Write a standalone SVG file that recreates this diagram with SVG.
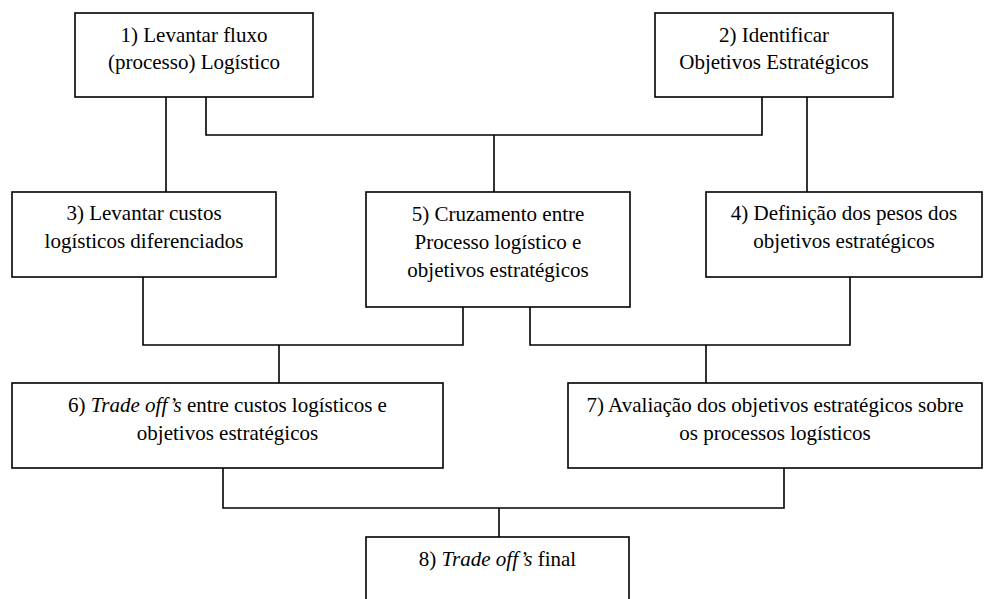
<svg xmlns="http://www.w3.org/2000/svg" width="987" height="599" viewBox="0 0 987 599">
  <style>
    .box { fill: #ffffff; stroke: #000000; stroke-width: 1.6; }
    .wire { fill: none; stroke: #000000; stroke-width: 1.6; }
    .lbl { font-family: 'Times New Roman', Times, Tinos, 'Liberation Serif', 'Noto Serif', 'DejaVu Serif', 'Nimbus Roman', FreeSerif, serif; font-size: 21px; fill: #000000; text-anchor: middle; }
    .it { font-style: italic; }
  </style>
  <rect width="987" height="599" fill="#ffffff"/>

  <g id="connectors">
    <!-- 1 -> 3 -->
    <path class="wire" d="M166 97 V192"/>
    <!-- 1 and 2 -> 5 -->
    <path class="wire" d="M206 97 V135 H762 V97"/>
    <path class="wire" d="M494 135 V192"/>
    <!-- 2 -> 4 -->
    <path class="wire" d="M807 97 V192"/>
    <!-- 3 and 5 -> 6 -->
    <path class="wire" d="M143 277 V345 H463 V307"/>
    <path class="wire" d="M279 345 V383"/>
    <!-- 5 and 4 -> 7 -->
    <path class="wire" d="M530 307 V345 H850 V277"/>
    <path class="wire" d="M706 345 V383"/>
    <!-- 6 and 7 -> 8 -->
    <path class="wire" d="M223 468 V508 H784 V468"/>
    <path class="wire" d="M499 508 V537"/>
  </g>

  <g id="node1">
    <rect class="box" x="75" y="13" width="238" height="84"/>
    <text class="lbl" x="194" y="42">1) Levantar fluxo</text>
    <text class="lbl" x="194" y="69">(processo) Logístico</text>
  </g>

  <g id="node2">
    <rect class="box" x="655" y="13" width="238" height="84"/>
    <text class="lbl" x="774" y="42">2) Identificar</text>
    <text class="lbl" x="774" y="69">Objetivos Estratégicos</text>
  </g>

  <g id="node3">
    <rect class="box" x="12" y="192" width="264" height="85"/>
    <text class="lbl" x="144" y="220">3) Levantar custos</text>
    <text class="lbl" x="144" y="248">logísticos diferenciados</text>
  </g>

  <g id="node5">
    <rect class="box" x="366" y="192" width="264" height="115"/>
    <text class="lbl" x="498" y="221">5) Cruzamento entre</text>
    <text class="lbl" x="498" y="249">Processo logístico e</text>
    <text class="lbl" x="498" y="277">objetivos estratégicos</text>
  </g>

  <g id="node4">
    <rect class="box" x="706" y="192" width="276" height="85"/>
    <text class="lbl" x="844" y="220">4) Definição dos pesos dos</text>
    <text class="lbl" x="844" y="248">objetivos estratégicos</text>
  </g>

  <g id="node6">
    <rect class="box" x="12" y="383" width="431" height="85"/>
    <text class="lbl" x="227.5" y="412">6) <tspan class="it">Trade off’s</tspan> entre custos logísticos e</text>
    <text class="lbl" x="227.5" y="440">objetivos estratégicos</text>
  </g>

  <g id="node7">
    <rect class="box" x="568" y="383" width="414" height="85"/>
    <text class="lbl" x="775" y="412">7) Avaliação dos objetivos estratégicos sobre</text>
    <text class="lbl" x="775" y="440">os processos logísticos</text>
  </g>

  <g id="node8">
    <rect class="box" x="366" y="537" width="263" height="80"/>
    <text class="lbl" x="497.5" y="566">8) <tspan class="it">Trade off’s</tspan> final</text>
  </g>
</svg>
